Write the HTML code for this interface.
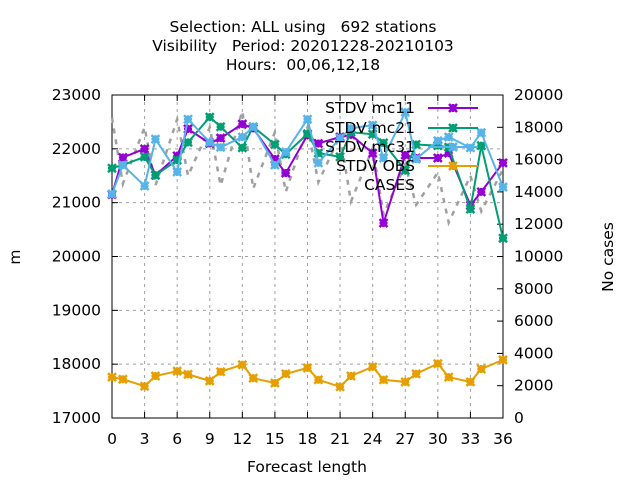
<!DOCTYPE html>
<html><head><meta charset="utf-8"><style>
body{margin:0;background:#fff}
svg{display:block;font-family:"DejaVu Sans","Liberation Sans",sans-serif}
</style></head><body>
<svg id="c" width="640" height="480"></svg>
<script>
const hours=[0,1,3,4,6,7,9,10,12,13,15,16,18,19,21,22,24,25,27,28,30,31,33,34,36];
const mc11=[21150,21840,22000,21510,21870,22370,22100,22200,22460,22380,21810,21550,22257,22100,22220,22260,21920,20620,21885,21830,21830,21920,20950,21200,21740];
const mc21=[21640,21700,21850,21510,21790,22120,22590,22410,22020,22410,22080,21900,22280,21920,21850,22310,22270,22110,21600,22080,22060,22030,20880,22060,20340];
const mc31=[21160,21700,21310,22180,21570,22550,22120,22030,22220,22410,21700,21940,22550,21740,22200,22380,22440,21830,22680,21810,22150,22220,22020,22300,21290];
const obs=[17760,17720,17590,17780,17870,17810,17690,17860,17990,17740,17650,17820,17930,17710,17580,17780,17950,17710,17670,17820,18010,17760,17670,17910,18080];
const cases=[18600,14500,18000,14400,18500,15000,18000,14400,19000,14200,17700,14000,18000,14600,17500,13400,16700,12600,15700,13200,15200,12100,15000,12800,15400];
const xTicks=[0,3,6,9,12,15,18,21,24,27,30,33,36];
const yTicks=[17000,18000,19000,20000,21000,22000,23000];
const y2Ticks=[0,2000,4000,6000,8000,10000,12000,14000,16000,18000,20000];

const L=112,R=503,T=95,B=418;
const X=h=>L+(h/36)*(R-L);
const Y=v=>B-(v-17000)/6000*(B-T);
const Y2=v=>B-v/20000*(B-T);
const svg=document.getElementById('c');
const NS='http://www.w3.org/2000/svg';
function el(t,a,p){const e=document.createElementNS(NS,t);for(const k in a)e.setAttribute(k,a[k]);(p||svg).appendChild(e);return e;}
function txt(s,x,y,anchor,extra){const e=el('text',Object.assign({x:x,y:y,'text-anchor':anchor||'middle','font-size':15.5,fill:'#000'},extra||{}));e.textContent=s;return e;}

let t;
t=txt('Selection: ALL using   692 stations',303,32);
t=txt('Visibility   Period: 20201228-20210103',303,51);
t=txt('Hours:  00,06,12,18',303,70);
svg.querySelectorAll('text').forEach(e=>e.style.whiteSpace='pre');

const grid=el('g',{stroke:'#a0a0a0','stroke-width':1,'stroke-dasharray':'3,4'});


xTicks.forEach(h=>{if(h>0&&h<36)el('line',{x1:X(h),x2:X(h),y1:T,y2:B},grid);});
yTicks.forEach(v=>{if(v>17000&&v<23000)el('line',{x1:L,x2:R,y1:Y(v),y2:Y(v)},grid);});

const box=el('rect',{x:L,y:T,width:R-L,height:B-T,fill:'none',stroke:'#000','stroke-width':1});


const ticks=el('g',{stroke:'#000'});
xTicks.forEach(h=>{el('line',{x1:X(h),x2:X(h),y1:B,y2:B-6},ticks);el('line',{x1:X(h),x2:X(h),y1:T,y2:T+6},ticks);
 const e=txt(String(h),X(h),444);});
yTicks.forEach(v=>{el('line',{x1:L,x2:L+6,y1:Y(v),y2:Y(v)},ticks);
 const e=txt(String(v),101,Y(v)+5,'end');});
y2Ticks.forEach(v=>{el('line',{x1:R,x2:R-6,y1:Y2(v),y2:Y2(v)},ticks);
 const e=txt(String(v),514,Y2(v)+5,'start');});

t=txt('Forecast length',307,472);
t=txt('m',20,257,'middle',{transform:'rotate(-90 20 257)'});
t=txt('No cases',613,257,'middle',{transform:'rotate(-90 613 257)'});

const cg=el('polyline',{points:hours.map((h,i)=>X(h)+','+Y2(cases[i])).join(' '),fill:'none',stroke:'#a0a0a0','stroke-width':2.5,'stroke-dasharray':'5,6'});



function marker(x,y,c,g){
 el('path',{d:`M${x-4},${y}H${x+4}M${x},${y-4}V${y+4}M${x-4},${y-4}L${x+4},${y+4}M${x-4},${y+4}L${x+4},${y-4}`,stroke:c,'stroke-width':2.5,fill:'none'},g);
 el('rect',{x:x-3,y:y-3,width:6,height:6,fill:c},g);
}
function series(vals,c,name){
 const g=el('g',{});
 
 
 el('polyline',{points:hours.map((h,i)=>X(h)+','+Y(vals[i])).join(' '),fill:'none',stroke:c,'stroke-width':2},g);
 hours.forEach((h,i)=>marker(X(h),Y(vals[i]),c,g));
}
series(mc11,'#9400d3','series-mc11');
series(mc21,'#009e73','series-mc21');
series(mc31,'#56b4e9','series-mc31');
series(obs,'#e69f00','series-obs');

const lg=el('g',{});


const leg=[['STDV mc11','#9400d3',113],['STDV mc21','#009e73',133],['STDV mc31','#56b4e9',152],['STDV OBS','#e69f00',171],['CASES',null,190]];
leg.forEach(([s,c,y])=>{
 const e=txt(s,415,y,'end');lg.appendChild(e);
 
 
 if(c){el('line',{x1:428,x2:478,y1:y-5,y2:y-5,stroke:c,'stroke-width':2},lg);marker(453,y-5,c,lg);}
});
</script>
</body></html>
